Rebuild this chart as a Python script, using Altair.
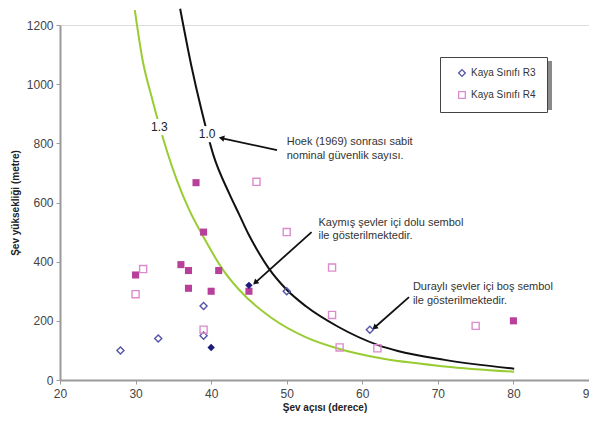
import altair as alt
import pandas as pd

# ---- data ----
r3_open_angle = [28, 33, 39, 39, 50, 61]
r3_open_height = [100, 140, 250, 150, 300, 170]
r3_fill_angle = [40, 45]
r3_fill_height = [110, 320]
r4_open_angle = [30, 31, 39, 46, 50, 56, 56, 57, 62, 75]
r4_open_height = [290, 375, 170, 670, 500, 380, 220, 110, 107, 183]
r4_fill_angle = [30, 36, 37, 37, 38, 39, 40, 41, 45, 80]
r4_fill_height = [355, 390, 370, 310, 667, 500, 300, 370, 300, 200]

fs13_angle = [29.9, 30.9, 32.2, 33.2, 34.2, 35.4, 37.1, 39.1, 41.5, 43.7, 48.1, 52.5, 57.1, 62.1, 70.9, 80.1]
fs13_height = [1250, 1085, 950, 855, 770, 680, 575, 478, 375, 305, 208, 145, 104, 75, 46, 28]
fs10_angle = [35.9, 37.4, 38.7, 40.3, 42.4, 43.7, 45.0, 45.9, 47.6, 50.0, 52.5, 56.8, 62.1, 64.7, 70.9, 80.1]
fs10_height = [1255, 1060, 915, 760, 630, 560, 490, 448, 378, 305, 250, 180, 118, 98, 68, 38]

curve_labels = ["1.3", "1.0"]
curve_label_x = [33.16, 39.47]
curve_label_y = [855, 831]

ann_text = ["Hoek (1969) sonrası sabit", "nominal güvenlik sayısı.",
            "Kaymış şevler içi dolu sembol", "ile gösterilmektedir.",
            "Duraylı şevler içi boş sembol", "ile gösterilmektedir."]
ann_x = [50.0, 50.0, 54.2, 54.2, 66.7, 66.7]
ann_y = [804, 757, 531, 487, 314, 267]

arrow_x1 = [48.72, 53.29, 66.18]
arrow_y1 = [777, 500, 280]
arrow_x2 = [41.49, 45.92, 61.71]
arrow_y2 = [817, 331, 179]
arrow_angle = [282, 228, 229]

x_ticks = [20, 30, 40, 50, 60, 70, 80, 90]
y_ticks = [0, 200, 400, 600, 800, 1000, 1200]

FONT = "Liberation Sans"
classes = ["Kaya Sınıfı R3", "Kaya Sınıfı R4"]

open_df = pd.DataFrame({
    "angle": r3_open_angle + r4_open_angle,
    "height": r3_open_height + r4_open_height,
    "cls": [classes[0]] * len(r3_open_angle) + [classes[1]] * len(r4_open_angle),
})
r3f = pd.DataFrame({"angle": r3_fill_angle, "height": r3_fill_height})
r4f = pd.DataFrame({"angle": r4_fill_angle, "height": r4_fill_height})
c13 = pd.DataFrame({"angle": fs13_angle, "height": fs13_height})
c10 = pd.DataFrame({"angle": fs10_angle, "height": fs10_height})
lab = pd.DataFrame({"t": curve_labels, "angle": curve_label_x, "height": curve_label_y})
ann = pd.DataFrame({"t": ann_text, "angle": ann_x, "height": ann_y})
arr = pd.DataFrame({"x1": arrow_x1, "y1": arrow_y1, "x2": arrow_x2, "y2": arrow_y2, "a": arrow_angle})

xs = alt.Scale(domain=[20, 90], nice=False, zero=False)
ys = alt.Scale(domain=[0, 1200], nice=False)

X = alt.X("angle:Q", scale=xs, title="Şev açısı (derece)",
          axis=alt.Axis(values=x_ticks, grid=False, domainColor="#9a9a9a", domainWidth=2,
                        tickColor="#9a9a9a", tickSize=4, tickWidth=1, labelFontSize=12,
                        labelColor="#444", labelPadding=4, labelFont=FONT, format="d",
                        labelFlush=False, labelOverlap=False, labelBound=False,
                        titleFont=FONT, titleFontSize=10, titleFontWeight="bold",
                        titleColor="#222", titlePadding=3))
Y = alt.Y("height:Q", scale=ys, title="Şev yüksekliği (metre)",
          axis=alt.Axis(values=y_ticks, grid=False, domainColor="#9a9a9a", domainWidth=2,
                        tickColor="#9a9a9a", tickSize=4, tickWidth=1, labelFontSize=12,
                        labelColor="#444", labelPadding=3, labelFont=FONT, format="d",
                        labelFlush=False, labelOverlap=False, labelBound=False,
                        titleFont=FONT, titleFontSize=10, titleFontWeight="bold",
                        titleColor="#222", titlePadding=6))

base_x = alt.X("angle:Q", scale=xs)
base_y = alt.Y("height:Q", scale=ys)

shadow = alt.Chart(pd.DataFrame({"d": [0]})).mark_rect(color="#8a8a8a").encode(
    x=alt.value(384), x2=alt.value(492), y=alt.value(36), y2=alt.value(85))

green = alt.Chart(c13).mark_line(color="#99cc33", strokeWidth=2, interpolate="monotone").encode(x=X, y=Y)
black = alt.Chart(c10).mark_line(color="#111111", strokeWidth=2, interpolate="monotone").encode(x=base_x, y=base_y)

gap = alt.Chart(lab).mark_point(shape="square", filled=True, color="white", size=260, opacity=1).encode(
    x=base_x, y=base_y)
labels = alt.Chart(lab).mark_text(font=FONT, fontSize=12, color="#222", align="center",
                                  baseline="middle").encode(x=base_x, y=base_y, text="t:N")

arrow_lines = alt.Chart(arr).mark_rule(color="#111", strokeWidth=1.8).encode(
    x=alt.X("x1:Q", scale=xs), y=alt.Y("y1:Q", scale=ys),
    x2="x2:Q", y2="y2:Q")
arrow_heads = alt.Chart(arr).mark_point(shape="triangle", filled=True, color="#111", size=40, opacity=1).encode(
    x=alt.X("x2:Q", scale=xs), y=alt.Y("y2:Q", scale=ys), angle=alt.Angle("a:Q", scale=None))

ann_text_l = alt.Chart(ann).mark_text(font=FONT, fontSize=11, color="#333", align="left",
                                      baseline="middle").encode(x=base_x, y=base_y, text="t:N")

r4_filled = alt.Chart(r4f).mark_point(shape="square", filled=True, color="#b8409a", size=50, opacity=1).encode(
    x=base_x, y=base_y)
open_pts = alt.Chart(open_df).mark_point(filled=False, size=50, strokeWidth=1.4, opacity=1).encode(
    x=base_x, y=base_y,
    shape=alt.Shape("cls:N", scale=alt.Scale(domain=classes, range=["diamond", "square"]),
                    legend=alt.Legend(title=None, orient="none", legendX=380, legendY=32,
                                      strokeColor="#444", fillColor="white", padding=11,
                                      labelFont=FONT, labelFontSize=10, labelColor="#333",
                                      symbolSize=45, rowPadding=10, symbolStrokeWidth=1.3,
                                      labelLimit=200, symbolOffset=6)),
    stroke=alt.Stroke("cls:N", scale=alt.Scale(domain=classes, range=["#5555aa", "#dc8ccc"]),
                      legend=alt.Legend(title=None, orient="none", legendX=380, legendY=32)),
)
r3_filled = alt.Chart(r3f).mark_point(shape="diamond", filled=True, color="#1c1c7a", size=55, opacity=1).encode(
    x=base_x, y=base_y)

chart = alt.layer(
    shadow, green, black, gap, labels, arrow_lines, arrow_heads, ann_text_l,
    r4_filled, open_pts, r3_filled
).properties(
    width=529, height=355,
    padding={"left": 52, "top": 17, "right": 0, "bottom": 38},
    autosize=alt.AutoSizeParams(type="none"),
).configure_view(stroke=None).configure(font=FONT)

chart.save("out.html", embed_options={"renderer": "svg", "actions": False})
